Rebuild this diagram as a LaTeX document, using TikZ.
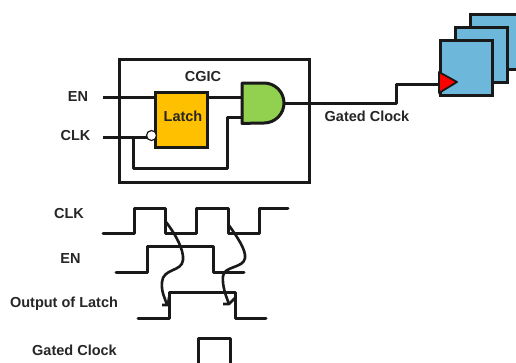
\documentclass[tikz,border=0pt]{standalone}
\usepackage{fontspec}
\setmainfont{Liberation Sans}
\begin{document}
\begin{tikzpicture}[x=1pt,y=-1pt,
  wire/.style={line width=3pt,draw=black!90,line join=round},
  thin wire/.style={line width=2.6pt,draw=black!90,line join=round},
  lab/.style={font=\fontsize{14.5}{16}\selectfont\bfseries,text=black!85,inner sep=0pt},
  boxed/.style={draw=black!90,line width=2.7pt,rectangle,inner sep=0pt,anchor=north west},
  flop/.style={boxed,fill=flopblue,minimum width=52pt,minimum height=55pt},
  ghost/.style={rectangle,inner sep=0pt,anchor=north west,minimum width=42pt,minimum height=40pt}
]
\definecolor{flopblue}{HTML}{6CB7DA}
\definecolor{latchgold}{HTML}{FFC000}
\definecolor{andgreen}{HTML}{92D050}
\clip (0,0) rectangle (516,362);
\fill[white] (0,0) rectangle (516,362);
% CGIC box
\node[boxed,minimum width=190pt,minimum height=123pt] (cgic) at (118,58) {};
\node[lab] (cgiclab) at (203,77) {CGIC};
% flip-flops
\node[flop,minimum width=60pt] (ff3) at (469,13) {};
\node[flop] (ff2) at (454,26) {};
\node[flop] (ff1) at (439,39) {};
\fill[red,draw=black!90,line width=1.8pt,line join=round] (439,72) -- (457,82) -- (439,93) -- cycle;
% latch
\node[boxed,fill=latchgold,minimum width=52pt,minimum height=55pt] (latch) at (154,91) {};
\node[lab] (latchlab) at (183,116) {Latch};
% AND gate
\node[ghost] (and) at (242,83) {};
\filldraw[fill=andgreen,wire] (and.north west) -- (264,83) arc[start angle=90,end angle=-90,radius=20pt] -- (and.south west) -- cycle;
% labels
\node[lab] (en) at (78,97) {EN};
\node[lab] (clk) at (75.5,136) {CLK};
\node[lab] (gclk) at (367,116) {Gated Clock};
\node[lab] (wclk) at (69,214) {CLK};
\node[lab] (wen) at (70.5,259) {EN};
\node[lab] (wout) at (64,304) {Output of Latch};
\node[lab] (wgclk) at (74.5,350) {Gated Clock};
% free ends
\coordinate (enin) at (103,97);
\coordinate (clkin) at (103,137);
\coordinate (tap) at (133,137);
\coordinate (latchq) at (latch.east |- enin);
\coordinate (andA) at (242,97);
\coordinate (andB) at (242,117);
\coordinate (andY) at (284,103.5);
\coordinate (ffck) at (439,84);
% wires
\draw[wire] (enin) -- (latch.west |- enin);
\draw[wire] (latchq) -- (andA);
\draw[wire] (clkin) -- (147,137);
\draw[wire] (tap) |- (227,168) |- (andB);
\draw[wire] (andY) -- (396,103.5) |- (ffck);
\node[circle,draw=black!90,fill=white,line width=1.2pt,minimum size=10pt,inner sep=0pt] (bub) at (151.5,135.5) {};
% waveforms
\draw[wire,line cap=round] (103,233) -| (134,208) -| (165,233) -| (196,208) -| (228,233) -| (259,208) -- (288,208);
\draw[wire,line cap=round] (116,272) -| (147,246) -| (213,272) -- (244,272);
\draw[wire,line cap=round] (138,318) -| (169,292) -| (235,318) -- (266,318);
\draw[wire] (198,366) -- (198,338) -- (230,338) -- (230,366);
% causal arrows
\draw[thin wire] (166,222) .. controls (176,235) and (184,250) .. (183,260)
   .. controls (182,272) and (163,268) .. (162,282) .. controls (161,292) and (165,298) .. (167,305);
\draw[thin wire] (162,305) -- (168,305) -- (169,297);
\draw[thin wire] (228,224) .. controls (238,238) and (246,250) .. (245,258)
   .. controls (244,268) and (224,266) .. (223,276) .. controls (222,286) and (226,296) .. (229,304);
\draw[thin wire] (223,304) -- (229,304) -- (235,298);
\end{tikzpicture}
\end{document}
